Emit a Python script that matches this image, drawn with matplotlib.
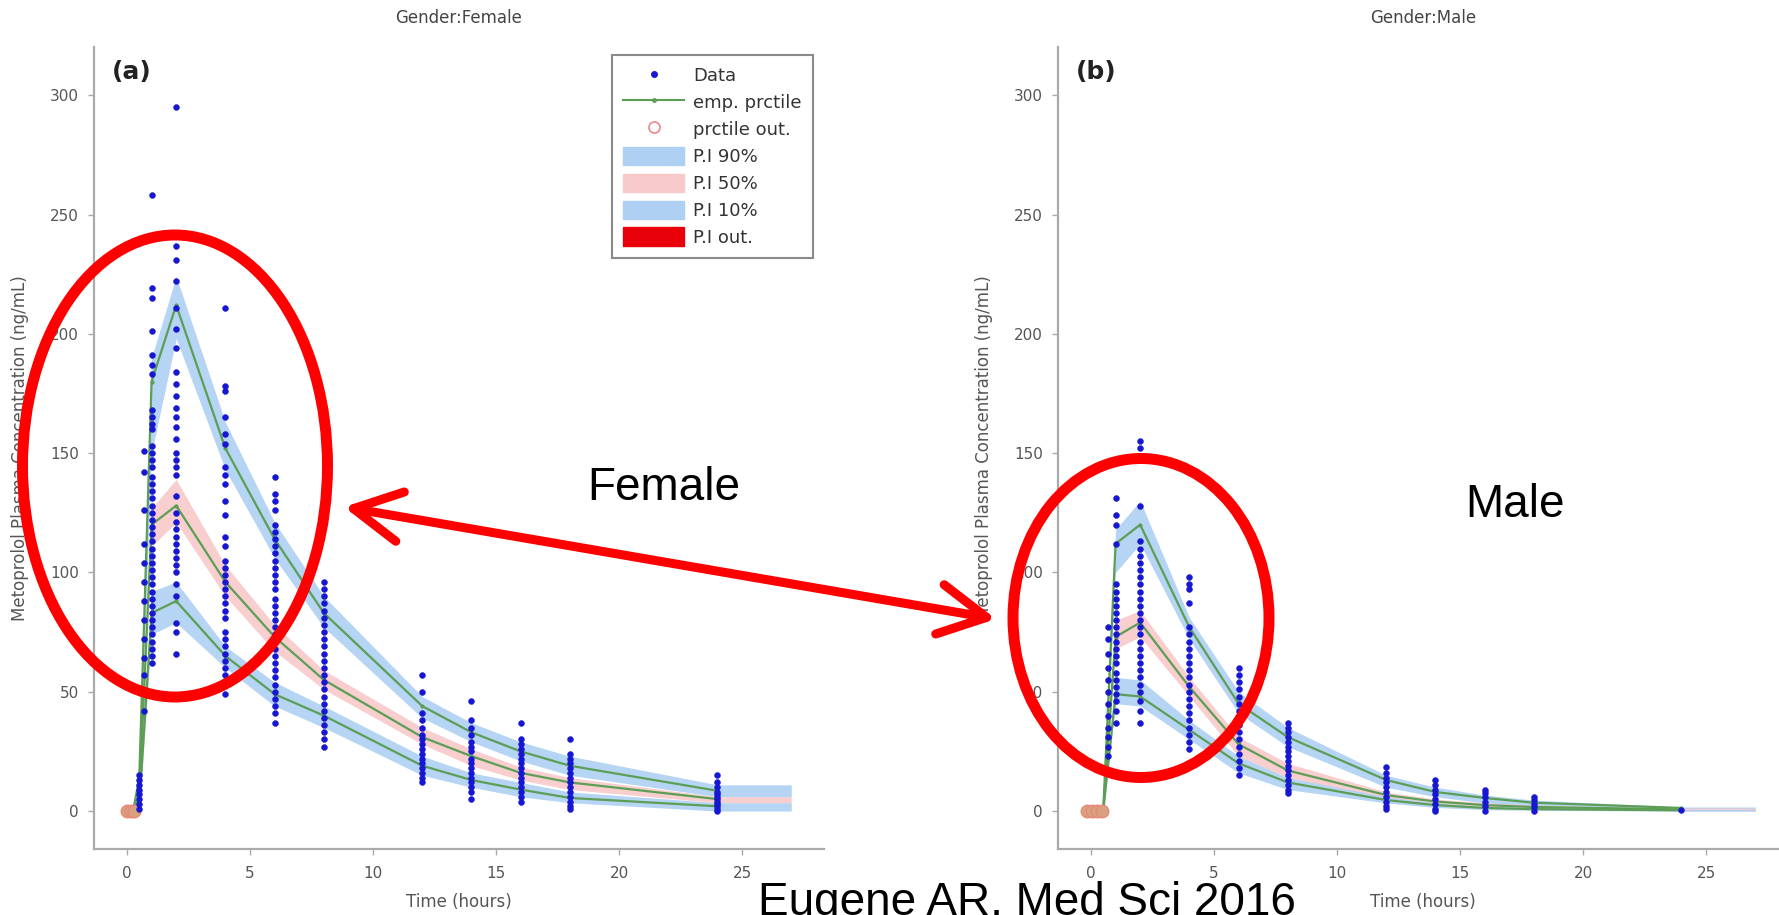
import numpy as np
import matplotlib.pyplot as plt
from matplotlib.patches import Ellipse, Patch, FancyArrowPatch
from matplotlib.lines import Line2D

W, H = 1779, 915

# time grid of the percentile curves and of the prediction bands
line_t = [0, 0.25, 0.5, 1, 2, 4, 6, 8, 12, 14, 16, 18, 24]
band_t = [0, 0.25, 0.5, 1, 2, 4, 6, 8, 12, 14, 16, 18, 24, 27]

# Female: empirical percentiles (90th, 50th, 10th)
f_p90 = [0, 0, 14, 180, 212, 152, 114, 83, 44, 33, 25, 19, 8.5]
f_p50 = [0, 0, 6, 120, 128, 96, 73, 55, 31, 23, 16, 12, 5]
f_p10 = [0, 0, 2, 83, 88, 65, 49, 40, 19, 13, 9, 5.5, 2]
# Female: prediction intervals around each percentile
f90_lo = [0, 0, 10, 150, 198, 143, 106, 77, 39, 29, 21, 15, 6, 6]
f90_hi = [0, 0, 18, 190, 224, 163, 121, 90, 48, 37, 29, 23, 11, 11]
f50_lo = [0, 0, 4, 111, 121, 90, 67, 51, 28, 19, 13, 9, 3.5, 3.5]
f50_hi = [0, 0, 8, 127, 139, 103, 78, 59, 35, 26, 18.5, 14, 6, 6]
f10_lo = [0, 0, 0.5, 74, 79, 60, 44, 35, 15, 10, 6, 3.5, 0, 0]
f10_hi = [0, 0, 3, 92, 96, 69, 54, 44, 23, 16, 12, 8, 3.5, 3.5]

# Male
m_p90 = [0, 0, 0.5, 112, 120, 77, 45, 31, 13, 8, 5.5, 3.5, 1.3]
m_p50 = [0, 0, 0.3, 73, 79, 52, 28, 17, 6.7, 4, 2.5, 1.7, 0.7]
m_p10 = [0, 0, 0.1, 49, 48, 34, 20, 12, 4.6, 2.5, 1.3, 0.8, 0.3]
m90_lo = [0, 0, 0, 100, 112, 72, 41, 27, 10, 6, 3.4, 1.7, 0, 0]
m90_hi = [0, 0, 1, 118, 130, 81, 50, 35, 15, 10, 6.7, 4.6, 1.7, 1.7]
m50_lo = [0, 0, 0, 68, 73, 48, 23, 14, 5.5, 3, 1.5, 1, 0.3, 0.3]
m50_hi = [0, 0, 0.6, 80, 84, 56, 31, 20, 8, 5, 3.5, 2.5, 1.2, 1.2]
m10_lo = [0, 0, 0, 45, 44, 30, 16, 9, 3.4, 1.5, 0.6, 0.3, 0, 0]
m10_hi = [0, 0, 0.3, 56, 55, 38, 23, 14, 6, 3.5, 2, 1.5, 0.6, 0.6]

# observed concentrations (ng/mL) by sampling time (h)
female_obs = {
    0.5: [1, 3, 5, 7, 9, 11, 13, 15],
    0.7: [151, 142, 126, 112, 104, 96, 88, 80, 72, 64, 57, 50, 42],
    1: [258, 219, 215, 201, 191, 187, 183, 168, 165, 162, 160, 153, 150, 147, 144,
        140, 137, 134, 131, 128, 125, 122, 119, 116, 113, 110, 107, 104, 101, 98,
        95, 92, 89, 86, 83, 80, 77, 74, 71, 68, 65, 62],
    2: [295, 237, 231, 222, 211, 202, 194, 184, 179, 174, 169, 165, 161, 156, 150,
        147, 144, 141, 132, 125, 121, 118, 115, 112, 109, 106, 103, 100, 95, 90,
        79, 75, 66],
    4: [211, 178, 176, 165, 158, 154, 144, 141, 137, 130, 124, 115, 111, 105, 102,
        99, 96, 93, 90, 87, 84, 81, 75, 72, 69, 66, 63, 60, 57, 53, 49],
    6: [140, 133, 130, 126, 120, 117, 114, 111, 108, 105, 102, 99, 96, 93, 89, 86,
        83, 80, 77, 74, 71, 68, 65, 62, 59, 56, 53, 50, 47, 44, 41, 37],
    8: [96, 93, 90, 87, 84, 81, 78, 75, 72, 69, 66, 63, 60, 57, 54, 51, 48, 45, 42,
        39, 36, 33, 30, 27],
    12: [57, 50, 41, 38, 35, 32, 30, 28, 26, 24, 22, 20, 18, 16, 14, 12],
    14: [46, 38, 35, 32, 29, 27, 25, 22, 20, 18, 16, 14, 12, 10, 8, 5],
    16: [37, 30, 28, 26, 24, 22, 20, 18, 16, 14, 12, 10, 8, 6, 4],
    18: [30, 24, 22, 20, 18, 16, 14, 12, 10, 8, 6, 4, 2, 1],
    24: [15, 12, 10, 8, 7, 6, 5, 4, 3, 2, 1, 0],
}
male_obs = {
    0.7: [77, 72, 66, 60, 55, 50, 45, 40, 35, 31, 27, 23],
    1: [131, 124, 120, 112, 95, 92, 89, 86, 83, 80, 77, 74, 71, 68, 65, 62, 58, 55,
        52, 49, 46, 42, 37],
    2: [155, 152, 128, 113, 110, 107, 104, 101, 98, 95, 92, 89, 86, 83, 80, 77, 74,
        71, 68, 65, 62, 59, 56, 53, 50, 46, 42, 37],
    4: [98, 95, 93, 87, 77, 74, 71, 68, 65, 62, 59, 56, 53, 50, 47, 44, 41, 38, 35,
        32, 29, 26],
    6: [60, 57, 54, 51, 48, 45, 42, 39, 36, 33, 30, 27, 24, 21, 18, 15],
    8: [37, 35, 33, 31, 29, 27, 25, 23, 21, 19, 17, 15, 13, 11, 9, 7.5],
    12: [18.5, 16, 14, 12, 10, 8, 6, 4, 2, 1],
    14: [13, 11, 9, 7, 5, 3, 1, 0],
    16: [9, 7.5, 6, 4, 2, 0],
    18: [6, 4.5, 3, 1.5, 0],
    24: [0.5],
}
# percentiles outside their interval (at pre-dose times)
female_out_t = [0, 0.15, 0.3]
male_out_t = [-0.15, 0.05, 0.25, 0.45]

BLUE = '#1717d2'
GREEN = '#5c9e55'
BAND_BLUE = '#aed0f2'
BAND_PINK = '#f8c9c9'
GRAY = '#9a9a9a'
TXT = '#555555'

fig = plt.figure(figsize=(W / 100, H / 100), dpi=100)
fig.patch.set_facecolor('white')


def fx(x):
    return x / W


def fy(y):
    return 1 - y / H


def panel(ax, obs, out_t, pcts, bands, tag, title):
    for (lo, hi), col in zip(bands, [BAND_BLUE, BAND_PINK, BAND_BLUE]):
        ax.fill_between(band_t, lo, hi, color=col, lw=0, alpha=0.9, zorder=1)
    for p in pcts:
        ax.plot(line_t, p, color=GREEN, lw=1.6, marker='.', ms=4, zorder=2)
    ax.plot(out_t, np.zeros(len(out_t)), 'o', ms=9, mfc='#d9a27f', mec='#e8887a',
            mew=1, zorder=3)
    for t, vals in obs.items():
        ax.plot(np.full(len(vals), t), vals, 'o', ms=4.3, color=BLUE, mec=BLUE,
                mew=0.3, zorder=4)

    ax.set_xlim(-1.34, 28.33)
    ax.set_ylim(-15.9, 320.2)
    ax.set_xticks([0, 5, 10, 15, 20, 25])
    ax.set_yticks([0, 50, 100, 150, 200, 250, 300])
    for s in ['top', 'right']:
        ax.spines[s].set_visible(False)
    for s in ['left', 'bottom']:
        ax.spines[s].set_color('#aaaaaa')
        ax.spines[s].set_linewidth(1.6)
    ax.tick_params(direction='out', length=4, width=1, color='#aaaaaa',
                   labelcolor=TXT, labelsize=11)
    ax.tick_params(axis='x', pad=8)
    ax.tick_params(axis='y', pad=7)
    ax.set_xlabel('Time (hours)', fontsize=12, color=TXT, va='center')
    ax.xaxis.set_label_coords(0.5, -0.066)
    ax.set_ylabel('Metoprolol Plasma Concentration (ng/mL)', fontsize=12,
                  color=TXT, va='center')
    ax.yaxis.set_label_coords(-0.101, 0.5)
    ax.set_title(title, fontsize=12, color='#444444', pad=17)
    ax.text(0.025, 0.969, tag, transform=ax.transAxes, fontsize=18,
            fontweight='bold', color='#222222', ha='left', va='center')


ax_f = fig.add_axes([fx(94), 66 / H, 730 / W, 802 / H])
ax_m = fig.add_axes([fx(1058), 66 / H, 730 / W, 802 / H])

panel(ax_f, female_obs, female_out_t, [f_p90, f_p50, f_p10],
      [(f90_lo, f90_hi), (f50_lo, f50_hi), (f10_lo, f10_hi)], '(a)', 'Gender:Female')
panel(ax_m, male_obs, male_out_t, [m_p90, m_p50, m_p10],
      [(m90_lo, m90_hi), (m50_lo, m50_hi), (m10_lo, m10_hi)], '(b)', 'Gender:Male')

handles = [
    Line2D([], [], ls='none', marker='o', ms=4, color=BLUE),
    Line2D([], [], color=GREEN, lw=1.5, marker='.', ms=5),
    Line2D([], [], ls='none', marker='o', ms=8, mfc='none', mec='#ee8888', mew=1.2),
    Patch(color=BAND_BLUE),
    Patch(color=BAND_PINK),
    Patch(color=BAND_BLUE),
    Patch(color='#e8000b'),
]
labels = ['Data', 'emp. prctile', 'prctile out.', 'P.I 90%', 'P.I 50%', 'P.I 10%', 'P.I out.']
leg = ax_f.legend(handles, labels, loc='upper left', bbox_to_anchor=(0.7096, 0.99),
                  borderaxespad=0, fontsize=13, handlelength=3.4, handleheight=1.2,
                  labelspacing=0.42, handletextpad=0.5, borderpad=0.6,
                  fancybox=False, framealpha=1)
leg.get_frame().set_edgecolor('#8a8a8a')
leg.get_frame().set_linewidth(1.5)
for t in leg.get_texts():
    t.set_color('#333333')

# annotations
for (cx, cy, w, h) in [(175, 466, 305, 462), (1141, 618, 256, 319)]:
    fig.patches.append(Ellipse((fx(cx), fy(cy)), w / W, h / H, transform=fig.transFigure,
                               fill=False, ec='#ff0000', lw=7.9, zorder=10))
arrow = FancyArrowPatch((fx(344), fy(507)), (fx(996), fy(619)), transform=fig.transFigure,
                        arrowstyle='<->,head_length=34,head_width=18', mutation_scale=1,
                        shrinkA=0, shrinkB=0, color='#ff0000', lw=6.5,
                        capstyle='round', joinstyle='round', zorder=10)
fig.patches.append(arrow)

big = dict(fontsize=33, family=['Liberation Sans', 'DejaVu Sans'], color='black',
           ha='center', va='baseline')
fig.text(fx(664), fy(500), 'Female', **big)
fig.text(fx(1515), fy(517), 'Male', **big)
fig.text(fx(1027), fy(915), 'Eugene AR, Med Sci 2016', **big)

fig.savefig('out.png', dpi=100)
